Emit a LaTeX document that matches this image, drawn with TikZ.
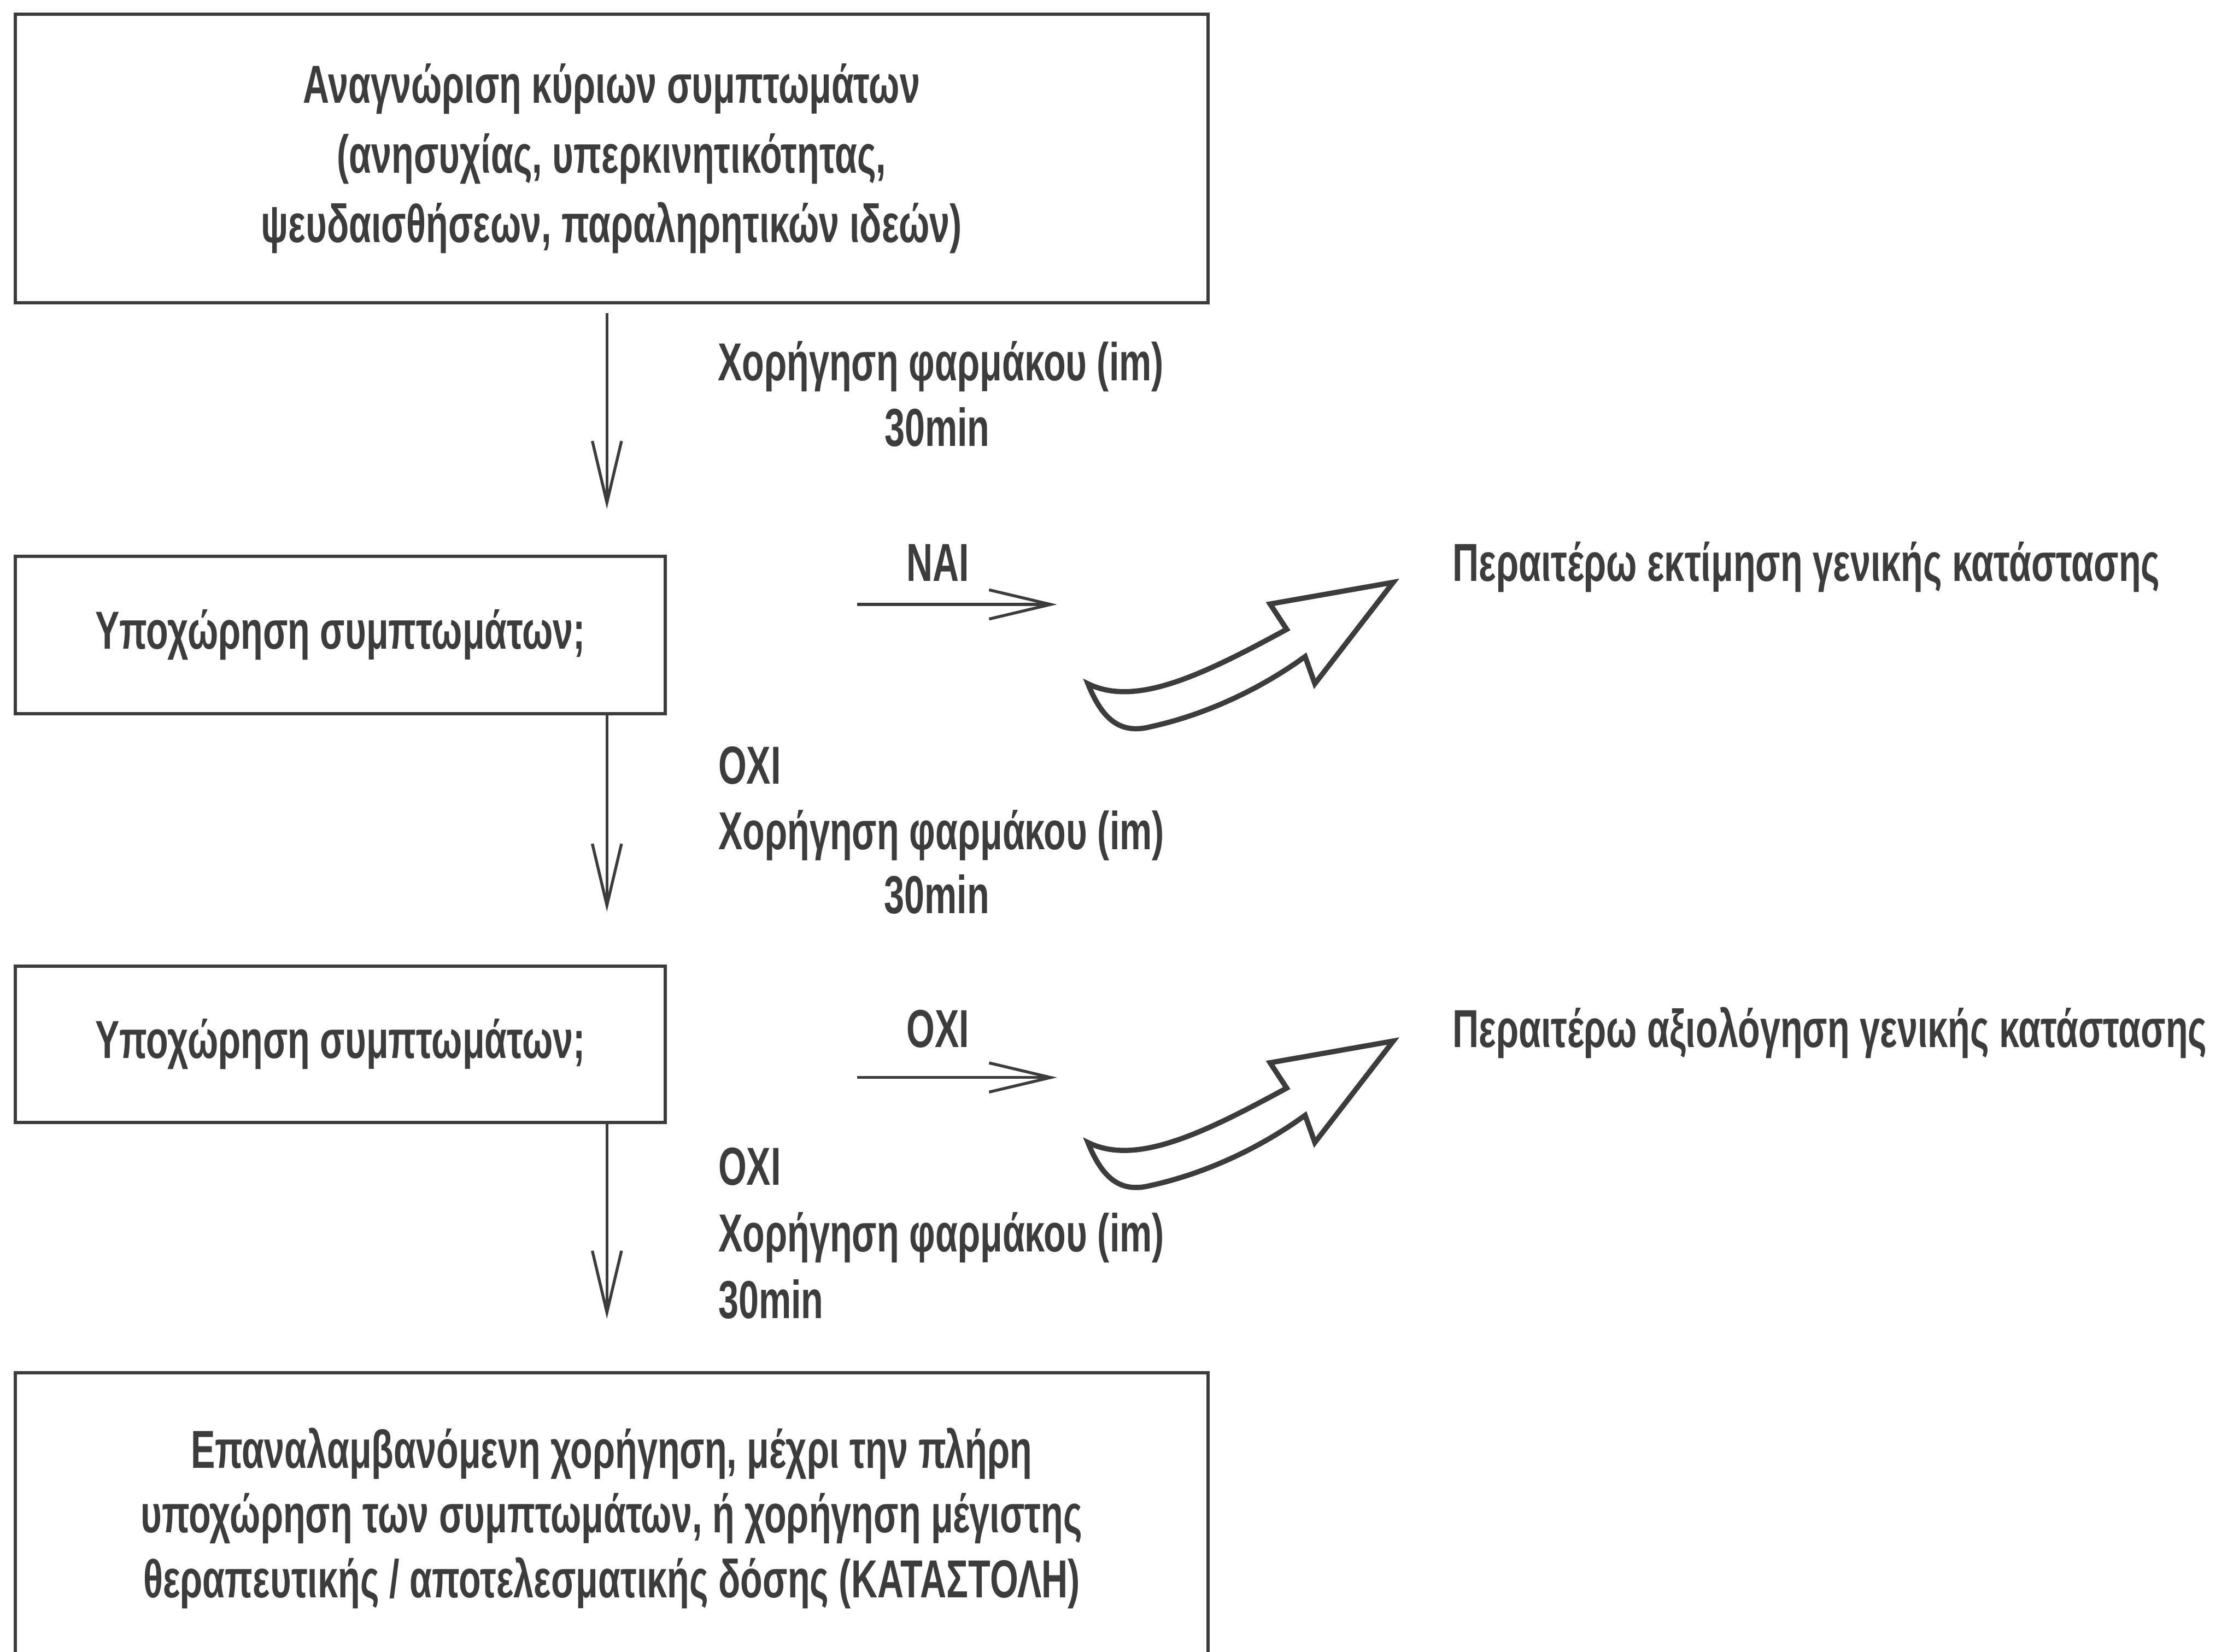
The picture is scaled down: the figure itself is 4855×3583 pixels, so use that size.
\documentclass[tikz,border=0pt]{standalone}
\usepackage{fontspec}
\setmainfont{Liberation Sans}[FakeStretch=0.68]
\usetikzlibrary{arrows.meta}
\definecolor{ink}{HTML}{3C3C3C}
\tikzset{
  stepbox/.style = {draw=ink, line width=2pt, inner sep=0pt, align=center, text=ink},
  lbl/.style = {inner sep=0pt, text=ink, font=\fontsize{33}{41}\selectfont\bfseries},
  flow/.style = {draw=ink, line width=1.8pt, -{Straight Barb[length=38pt, width=18pt, line width=1.8pt]}},
  blockarrow/.style = {draw=ink, fill=white, line width=3.2pt, line join=miter},
}

\begin{document}
\begin{tikzpicture}[x=0.01cm, y=-0.01cm]
\useasboundingbox (0,0) rectangle (4855,3583);

% boxes down the left
\node[stepbox, font=\fontsize{33}{43}\selectfont\bfseries, minimum width=25.85cm, minimum height=6.25cm] (recog) at (1326,344)
  {Αναγνώριση κύριων συμπτωμάτων\\(ανησυχίας, υπερκινητικότητας,\\ψευδαισθήσεων, παραληρητικών ιδεών)};
\node[stepbox, font=\fontsize{33}{41}\selectfont\bfseries, minimum width=14.09cm, minimum height=3.41cm] (check1) at (738,1377)
  {Υποχώρηση συμπτωμάτων;};
\node[stepbox, font=\fontsize{33}{41}\selectfont\bfseries, minimum width=14.09cm, minimum height=3.38cm] (check2) at (738,2265)
  {Υποχώρηση συμπτωμάτων;};
\node[stepbox, font=\fontsize{33}{40}\selectfont\bfseries, minimum width=25.85cm, minimum height=6.3cm] (repeat) at (1326,3293)
  {Επαναλαμβανόμενη χορήγηση, μέχρι την πλήρη\\υποχώρηση των συμπτωμάτων, ή χορήγηση μέγιστης\\θεραπευτικής / αποτελεσματικής δόσης (ΚΑΤΑΣΤΟΛΗ)};

% vertical connectors
\coordinate (spine) at (1316,0);
\draw[flow, shorten <=0.19cm, shorten >=0.99cm] (recog.south -| spine) -- (check1.north -| spine);
\draw[flow, shorten >=1.15cm] (check1.south -| spine) -- (check2.north -| spine);
\draw[flow, shorten >=1.14cm] (check2.south -| spine) -- (repeat.north -| spine);

% labels beside the connectors
\node[lbl, anchor=base] (dose1) at (2040,825) {Χορήγηση φαρμάκου (im)};
\node[lbl, anchor=base] (wait1) at (2032,968) {30min};

\node[lbl, anchor=base west] (no1) at (1557,1700) {ΟΧΙ};
\node[lbl, anchor=base west] (dose2) at (1557,1842) {Χορήγηση φαρμάκου (im)};
\node[lbl, anchor=base] (wait2) at (2031,1981) {30min};

\node[lbl, anchor=base west] (no3) at (1557,2570) {ΟΧΙ};
\node[lbl, anchor=base west] (dose3) at (1557,2715) {Χορήγηση φαρμάκου (im)};
\node[lbl, anchor=base west] (wait3) at (1557,2860) {30min};

% answers to the right
\node[lbl, anchor=base] (yes) at (2034,1260) {ΝΑΙ};
\coordinate (yesfrom) at (1858,1311);
\coordinate (yesto) at (2292,1311);
\draw[flow] (yesfrom) -- (yesto);

\node[lbl, anchor=base] (no2) at (2034,2272) {ΟΧΙ};
\coordinate (nofrom) at (1858,2337);
\coordinate (noto) at (2292,2337);
\draw[flow] (nofrom) -- (noto);

\node[lbl, anchor=base west] (assess) at (3149,1260) {Περαιτέρω εκτίμηση γενικής κατάστασης};
\node[lbl, anchor=base west] (evaluate) at (3149,2272) {Περαιτέρω αξιολόγηση γενικής κατάστασης};

% curved block arrows
\foreach \ty in {1263,2258} {
  \draw[blockarrow, shift={(3021,\ty)}] (0,0) -- (-267,47) -- (-231,102)
    .. controls (-420,205) and (-560,270) .. (-662,220)
    .. controls (-630,300) and (-590,330) .. (-525,313)
    .. controls (-420,290) and (-300,240) .. (-191,161)
    -- (-170,220) -- cycle;
}

\end{tikzpicture}
\end{document}
